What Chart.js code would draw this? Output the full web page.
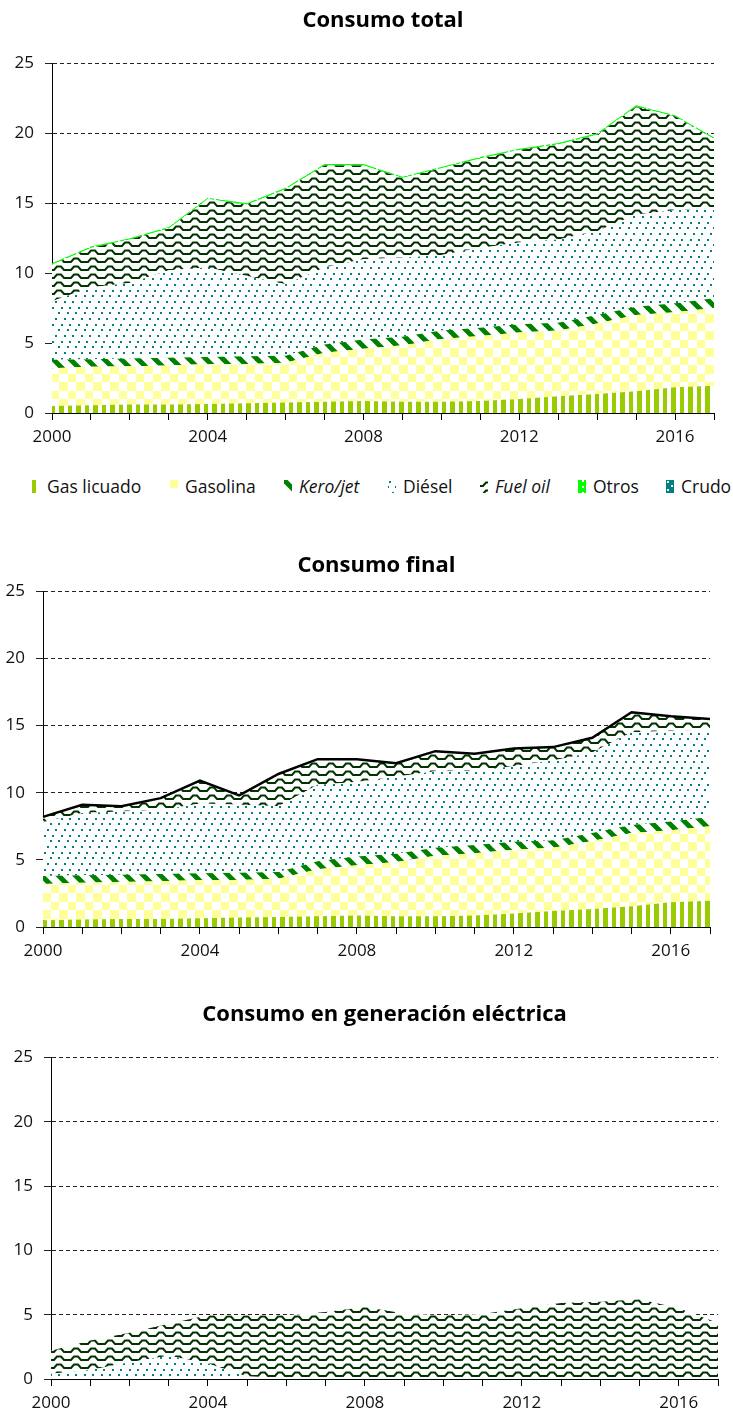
<!DOCTYPE html>
<html>
<head>
<meta charset="utf-8">
<script src="https://cdn.jsdelivr.net/npm/chart.js@4"></script>
<style>
  body { margin:0; width:733px; height:1414px; overflow:hidden; background:#fff; font-family:"Open Sans", sans-serif; }
  .box { position:absolute; left:0; width:733px; }
  .leg { position:absolute; top:476px; height:20px; font-size:17.5px; color:#111; white-space:nowrap; line-height:20px; }
  .leg canvas { position:absolute; left:0; top:4px; }
  .leg span { position:absolute; left:15px; top:0; }
</style>
</head>
<body>
<div class="box" style="top:0;height:450px"><canvas id="chart1"></canvas></div>
<div id="legend"></div>
<div class="box" style="top:545px;height:419px"><canvas id="chart2"></canvas></div>
<div class="box" style="top:994px;height:420px"><canvas id="chart3"></canvas></div>
<script>
// years on the x axis
const years = [2000,2001,2002,2003,2004,2005,2006,2007,2008,2009,2010,2011,2012,2013,2014,2015,2016,2017];
const yTicks = [0,5,10,15,20,25];

// Consumo total (stacked series)
const gasLicuado = [0.5,0.55,0.6,0.6,0.65,0.7,0.75,0.8,0.85,0.8,0.8,0.85,1.0,1.2,1.35,1.55,1.85,1.95];
const gasolina   = [2.7,2.75,2.75,2.8,2.85,2.8,2.85,3.5,3.75,4.05,4.5,4.65,4.75,4.7,5.05,5.45,5.35,5.55];
const keroJet    = [0.6,0.55,0.55,0.55,0.5,0.55,0.5,0.6,0.65,0.6,0.6,0.6,0.6,0.55,0.6,0.6,0.65,0.7];
const diesel     = [4.2,5.15,5.4,6.25,6.4,5.75,5.1,5.5,5.75,5.65,5.4,5.7,5.85,5.95,6.0,6.6,6.65,6.4];
const fuelOil    = [2.6,2.8,3.1,3.0,4.9,5.1,6.8,7.3,6.7,5.7,6.2,6.4,6.6,6.8,6.9,7.7,6.7,5.0];
const otros      = [0.1,0.1,0.1,0.1,0.1,0.1,0.1,0.1,0.1,0.1,0.1,0.1,0.1,0.1,0.1,0.1,0.1,0.1];
const crudo      = [0,0,0,0,0,0,0,0,0,0,0,0,0,0,0,0,0,0];

// Consumo final
const dieselFinal  = [4.0,4.65,4.7,4.75,5.2,5.05,4.9,5.7,5.55,5.75,5.7,5.5,5.65,5.95,6.0,6.9,6.75,6.5];
const fuelOilFinal = [0.4,0.6,0.4,0.9,1.7,0.7,2.4,1.9,1.7,1.0,1.5,1.3,1.3,1.0,1.1,1.5,1.1,0.8];
const totalFinal   = [8.2,9.1,9.0,9.6,10.9,9.8,11.4,12.5,12.5,12.2,13.1,12.9,13.3,13.4,14.1,16.0,15.7,15.5];

// Consumo en generación eléctrica
const dieselGen  = [0.4,0.7,1.3,1.8,1.2,0.2,0.1,0,0,0,0,0,0,0,0,0,0,0];
const fuelOilGen = [1.8,2.3,2.3,2.5,3.75,4.75,4.85,5.2,5.6,5.1,4.95,5.05,5.5,5.9,6.0,6.2,5.5,4.35];

// pattern tiles
function tile(w, h, draw) {
    const c = document.createElement('canvas');
    c.width = w; c.height = h;
    const g = c.getContext('2d');
    g.fillStyle = '#fff';
    g.fillRect(0, 0, w, h);
    draw(g);
    return c;
}
const tiles = {
    gas: tile(17, 4, g => { g.fillStyle = '#99CC00'; g.fillRect(0,0,4,4); g.fillRect(8,0,5,4); }),
    gasolina: tile(17, 17, g => { g.fillStyle = '#FFFF99'; g.fillRect(0,0,8,8); g.fillRect(8,8,9,9); }),
    kero: tile(17, 17, g => {
        g.strokeStyle = '#008000'; g.lineWidth = 5;
        [-17, 0, 17].forEach(o => { g.beginPath(); g.moveTo(o - 2, -2); g.lineTo(o + 19, 19); g.stroke(); });
    }),
    diesel: tile(17, 17, g => {
        g.fillStyle = '#008080';
        g.fillRect(1,1,2,2); g.fillRect(7,6,2,2); g.fillRect(13,12,2,2);
        g.fillRect(10,1,2,2); g.fillRect(16,6,1,2); g.fillRect(0,6,1,2); g.fillRect(4,12,2,2);
    }),
    fuel: tile(17, 8, g => {
        g.strokeStyle = '#003300'; g.lineWidth = 2;
        g.beginPath(); g.moveTo(-1,6); g.lineTo(3,6); g.lineTo(6,2.5); g.lineTo(10,2.5); g.lineTo(13,6); g.lineTo(18,6); g.stroke();
    }),
    otros: tile(6, 6, g => { g.fillStyle = '#00FF00'; g.fillRect(0,0,6,6); g.fillStyle = '#fff'; g.fillRect(4,0,2,2); }),
    crudo: tile(8, 8, g => { g.fillStyle = '#008080'; g.fillRect(0,0,8,8); g.fillStyle = '#fff'; g.fillRect(1,1,2,2); g.fillRect(5,5,2,2); })
};
function pat(name) {
    return document.createElement('canvas').getContext('2d').createPattern(tiles[name], 'repeat');
}

function area(label, data, p, first) {
    return {
        label: label, data: data,
        backgroundColor: pat(p),
        borderWidth: 0, pointRadius: 0, tension: 0,
        fill: first ? 'origin' : '-1'
    };
}

function options(title, yWidth, padBottom, padRight, xHeight) {
    return {
        responsive: true,
        maintainAspectRatio: false,
        animation: false,
        layout: { padding: { left: 0, right: padRight, top: 0, bottom: 0 } },
        plugins: {
            legend: { display: false },
            tooltip: { enabled: false },
            title: {
                display: true, text: title, color: '#000', fullSize: false,
                font: { family: 'Open Sans', size: 22, weight: 'bold' },
                padding: { top: 8, bottom: padBottom }
            }
        },
        scales: {
            x: {
                type: 'category',
                offset: false,
                afterFit: s => { s.height = xHeight; },
                grid: { drawOnChartArea: false, drawTicks: true, tickLength: 7, color: '#000' },
                border: { color: '#000', width: 1 },
                ticks: {
                    autoSkip: false, maxRotation: 0, padding: 7, color: '#111',
                    font: { family: 'Open Sans', size: 17 },
                    callback: (v, i) => years[i] % 4 === 0 ? String(years[i]) : ''
                }
            },
            y: {
                stacked: true,
                min: 0, max: 25,
                afterFit: s => { s.width = yWidth; },
                afterBuildTicks: s => { s.ticks = yTicks.map(v => ({ value: v })); },
                grid: { color: '#222', lineWidth: 1, tickLength: 7, tickBorderDash: [] },
                border: { color: '#000', width: 1, dash: [4, 3] },
                ticks: { padding: 11, color: '#111', font: { family: 'Open Sans', size: 17 } }
            }
        }
    };
}

new Chart(document.getElementById('chart1'), {
    type: 'line',
    data: {
        labels: years,
        datasets: [
            area('Gas licuado', gasLicuado, 'gas', true),
            area('Gasolina', gasolina, 'gasolina'),
            area('Kero/jet', keroJet, 'kero'),
            area('Diésel', diesel, 'diesel'),
            area('Fuel oil', fuelOil, 'fuel'),
            area('Otros', otros, 'otros'),
            area('Crudo', crudo, 'crudo')
        ]
    },
    options: options('Consumo total', 52, 29, 19, 37)
});

new Chart(document.getElementById('chart2'), {
    type: 'line',
    data: {
        labels: years,
        datasets: [
            area('Gas licuado', gasLicuado, 'gas', true),
            area('Gasolina', gasolina, 'gasolina'),
            area('Kero/jet', keroJet, 'kero'),
            area('Diésel', dieselFinal, 'diesel'),
            area('Fuel oil', fuelOilFinal, 'fuel'),
            {
                label: 'Total', data: totalFinal, stack: 'total', order: -1,
                borderColor: '#000', borderWidth: 2.5, pointRadius: 0, fill: false, tension: 0
            }
        ]
    },
    options: options('Consumo final', 43, 12, 23, 37)
});

new Chart(document.getElementById('chart3'), {
    type: 'line',
    data: {
        labels: years,
        datasets: [
            area('Diésel', dieselGen, 'diesel', true),
            area('Fuel oil', fuelOilGen, 'fuel')
        ]
    },
    options: options('Consumo en generación eléctrica', 51, 29, 15, 35)
});

// legend (HTML, so two labels can be italic)
const legendItems = [
    { text: 'Gas licuado', p: 'gas', left: 32 },
    { text: 'Gasolina', p: 'gasolina', left: 170 },
    { text: 'Kero/jet', p: 'kero', left: 284, italic: true },
    { text: 'Diésel', p: 'diesel', left: 388 },
    { text: 'Fuel oil', p: 'fuel', left: 480, italic: true },
    { text: 'Otros', p: 'otros', left: 578 },
    { text: 'Crudo', p: 'crudo', left: 666 }
];
const legend = document.getElementById('legend');
legendItems.forEach(it => {
    const d = document.createElement('div');
    d.className = 'leg';
    d.style.left = it.left + 'px';
    const c = document.createElement('canvas');
    c.width = 8; c.height = 13;
    const g = c.getContext('2d');
    g.fillStyle = g.createPattern(tiles[it.p], 'repeat');
    g.fillRect(0, 0, 8, 13);
    const s = document.createElement('span');
    s.textContent = it.text;
    if (it.italic) s.style.fontStyle = 'italic';
    d.appendChild(c);
    d.appendChild(s);
    legend.appendChild(d);
});
</script>
</body>
</html>
